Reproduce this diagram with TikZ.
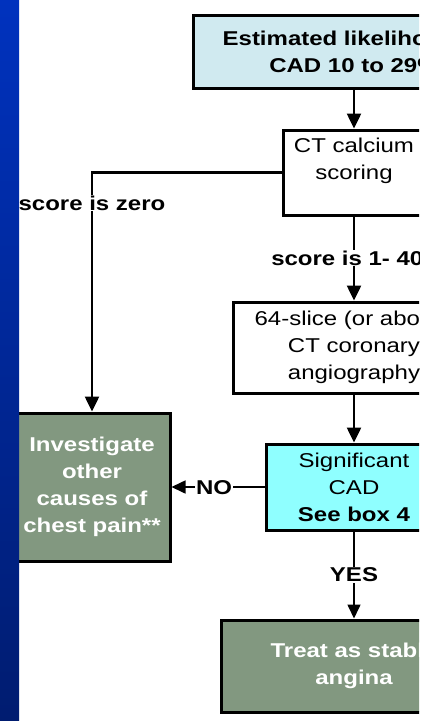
\documentclass[tikz,border=0pt]{standalone}
\usepackage{fontspec}
\setmainfont{Liberation Sans}[FakeStretch=1.2]
\usetikzlibrary{arrows.meta}
\definecolor{barTop}{RGB}{0,50,190}
\definecolor{barBottom}{RGB}{0,28,112}
\definecolor{paleblue}{RGB}{208,234,240}
\definecolor{sigcyan}{RGB}{143,255,255}
\definecolor{sage}{RGB}{130,152,128}
\newcommand\chartfont{\fontsize{20}{27}\selectfont}
\tikzset{
  box/.style={draw,line width=3pt,align=center,inner sep=0pt,font=\chartfont},
  greenbox/.style={box,fill=sage,text=white,font=\chartfont\bfseries},
  conn/.style={line width=2.5pt,-{Triangle[length=15pt,width=14pt]}},
  thinconn/.style={line width=1.6pt,-{Triangle[length=14pt,width=13pt]}},
  lbl/.style={fill=white,inner sep=1pt,font=\chartfont\bfseries}
}
\begin{document}
\begin{tikzpicture}[x=1pt,y=1pt]
\useasboundingbox (0,0) rectangle (433,-721);
\begin{scope}
\clip (0,0) rectangle (419,-721);
% boxes
\node[box,fill=paleblue,font=\chartfont\bfseries,minimum width=322pt,minimum height=73pt] (likely) at (354,-51.5) {Estimated likelihood of\\CAD 10 to 29\%};
\node[box,fill=white,minimum width=142pt,minimum height=85pt] (calcium) at (354,-172.5) {CT calcium\\scoring\\~};
\node[box,fill=white,minimum width=242pt,minimum height=91pt] (ctca) at (354,-347.5) {64-slice (or above)\\CT coronary\\angiography};
\node[box,fill=sigcyan,minimum width=176pt,minimum height=86pt] (signif) at (354,-487) {Significant\\CAD\\\textbf{See box 4}};
\node[greenbox,minimum width=156pt,minimum height=148pt] (other) at (92,-487) {Investigate\\other\\causes of\\chest pain**};
\node[greenbox,minimum width=266pt,minimum height=92pt] (stable) at (354,-666) {Treat as stable\\angina};
% connectors
\draw[conn] (likely) -- (calcium);
\draw[conn] (calcium.west) -| (other);
\draw[conn] (calcium) -- (ctca);
\draw[conn] (ctca) -- (signif);
\draw[thinconn] (signif) -- (other);
\draw[thinconn] (signif) -- (stable);
% labels
\node[lbl] (zero) at (92,-203) {score is zero};
\node[lbl] (low) at (354,-258) {score is 1- 400};
\node[lbl] (no) at (214,-488) {NO};
\node[lbl] (yes) at (354,-575) {YES};
\end{scope}
\fill[top color=barTop,bottom color=barBottom] (0,0) rectangle (19,-721);
\end{tikzpicture}
\end{document}
